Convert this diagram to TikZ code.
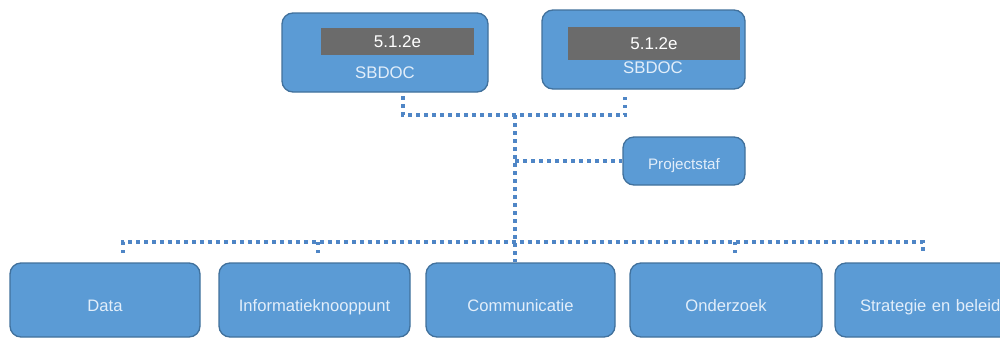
\documentclass[tikz,border=0pt]{standalone}
\usepackage{fontspec}
\setmainfont{Liberation Sans}
\definecolor{boxfill}{HTML}{5B9BD5}
\definecolor{boxline}{HTML}{41719C}
\definecolor{dotc}{HTML}{4F86C6}
\definecolor{grayfill}{HTML}{6B6B6B}
\definecolor{sbtext}{HTML}{E2EEFA}
\tikzset{
  box/.style={draw=boxline, line width=1.3pt, fill=boxfill, rounded corners=11pt,
    text=sbtext, font=\fontsize{16.6}{18}\selectfont, inner sep=0pt},
  lowbox/.style={box, minimum height=74pt, text height=22pt, text depth=0pt},
  graybar/.style={fill=grayfill, draw=none, text=white, inner sep=0pt,
    font=\fontsize{17}{18}\selectfont},
  lbl/.style={text=sbtext, inner sep=0pt, font=\fontsize{16.8}{18}\selectfont},
  dotline/.style={draw=dotc, line width=3.5pt, dash pattern=on 3.5pt off 4.5pt}
}
\begin{document}
\begin{tikzpicture}[x=1pt,y=-1pt]
\useasboundingbox (0,0) rectangle (1000,338);
\clip (0,0) rectangle (1000,338);
\fill[white] (0,0) rectangle (1000,338);
% top boxes
\node[box, minimum width=206pt, minimum height=79pt] (sb1) at (385,52.5) {};
\node[graybar, minimum width=153pt, minimum height=27pt] (g1) at (397.5,41.5) {5.1.2e};
\node[lbl] (t1) at (385,73) {SBDOC};
\node[box, minimum width=203pt, minimum height=79pt] (sb2) at (643.5,49.5) {};
\node[graybar, minimum width=172pt, minimum height=33pt] (g2) at (654,43.5) {5.1.2e};
\node[lbl] (t2) at (653,68) {SBDOC};
% projectstaf
\node[box, minimum width=122pt, minimum height=48pt, text height=16pt, text depth=0pt, font=\fontsize{15.2}{18}\selectfont] (ps) at (684,161) {Projectstaf};
% bottom boxes
\node[lowbox, minimum width=190pt] (data) at (105,300) {Data};
\node[lowbox, minimum width=191pt] (info) at (314.5,300) {Informatieknooppunt};
\node[lowbox, minimum width=189pt] (comm) at (520.5,300) {Communicatie};
\node[lowbox, minimum width=192pt] (onz) at (726,300) {Onderzoek};
\node[lowbox, minimum width=190pt, text width=190pt, align=left] (strat) at (930,300) {\hspace*{25pt}Strategie en beleid};
% connector points
\coordinate (c1) at (403,96);
\coordinate (c2) at (625,94);
\coordinate (j1) at (515,115);
\coordinate (bus) at (515,242);
\coordinate (d1) at (123,253);
\coordinate (d2) at (318,253);
\coordinate (d4) at (735,253);
\coordinate (d5) at (923,253);
% connectors
\draw[dotline] (c1) -- (c1 |- j1) -- (c2 |- j1) -- (c2);
\draw[dotline] (j1) -- (j1 |- comm.north);
\draw[dotline] (j1 |- ps.west) -- (ps.west);
\draw[dotline] (d1) -- (d1 |- bus) -- (d5 |- bus) -- (d5);
\draw[dotline] (d2) -- (d2 |- bus);
\draw[dotline] (d4) -- (d4 |- bus);
\end{tikzpicture}
\end{document}
